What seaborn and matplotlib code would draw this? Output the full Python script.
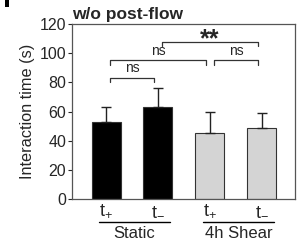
import numpy as np
import pandas as pd
import matplotlib
matplotlib.use("Agg")
import matplotlib.pyplot as plt
from matplotlib.patches import Rectangle
import seaborn as sns

conditions = ["Static t+", "Static t-", "Shear t+", "Shear t-"]
means = [53, 63, 45, 49]
sds = [10, 13, 15, 10]
tick_labels = [r"t$_{+}$", r"t$_{-}$", r"t$_{+}$", r"t$_{-}$"]
groups = ["Static", "4h Shear"]
colors = ["black", "black", "#d4d4d4", "#d4d4d4"]

sns.set_style("white")
plt.rcParams["font.family"] = ["Liberation Sans", "DejaVu Sans"]
plt.rcParams["mathtext.fontset"] = "custom"
plt.rcParams["mathtext.rm"] = "Liberation Sans"
plt.rcParams["mathtext.it"] = "Liberation Sans"

df = pd.DataFrame({"cond": conditions, "time": means})

fig = plt.figure(figsize=(2.98, 2.42), dpi=100)
ax = fig.add_axes([0.2406, 0.1777, 0.7496, 0.7231])

sns.barplot(data=df, x="cond", y="time", hue="cond", palette=colors,
            width=0.56, errorbar=None, legend=False, ax=ax,
            edgecolor="#333333", linewidth=0.8)
ax.errorbar(range(4), means, yerr=[np.zeros(4), sds], fmt="none",
            ecolor="#222222", elinewidth=1.0, capsize=3.5, capthick=1.0)

ax.set_xlim(-0.662, 3.647)
ax.set_ylim(0, 120)
ax.set_yticks(range(0, 121, 20))
ax.tick_params(axis="y", labelsize=11.5, length=3, width=0.8, direction="out", left=True, pad=1)
ax.tick_params(axis="x", length=0, labelsize=13, pad=2)
ax.set_xticks(range(4))
ax.set_xticklabels(tick_labels)
ax.set_xlabel("")
ax.set_ylabel("Interaction time (s)", fontsize=11.7, labelpad=3)
for s in ax.spines.values():
    s.set_color("#555555")
    s.set_linewidth(0.9)

# significance brackets
def bracket(x1, x2, y, label, size=10, weight="normal", ty=None, va="bottom"):
    ax.plot([x1, x1, x2, x2], [y - 3, y, y, y - 3], color="#333333", lw=0.9)
    ax.text((x1 + x2) / 2, y + 2 if ty is None else ty, label, ha="center",
            va=va, fontsize=size, fontweight=weight)

bracket(0.077, 0.927, 83, "ns")
bracket(0.077, 1.93, 95, "ns")
bracket(2.08, 2.93, 95, "ns")
bracket(1.075, 2.93, 108, "**", size=18, weight="bold", ty=105, va="baseline")

# group labels under the x axis
to_fig = lambda px: px / 298
for (x0, x1), name in zip([(99, 170), (203, 274)], groups):
    fig.add_artist(plt.Line2D([to_fig(x0), to_fig(x1)], [1 - 222 / 242] * 2,
                              color="black", lw=1.0))
    fig.text(to_fig((x0 + x1) / 2), 1 - 233.5 / 242, name, ha="center",
             va="center", fontsize=12)

fig.text(72 / 298, 1 - 14 / 242, "w/o post-flow", fontsize=12.5,
         fontweight="bold", ha="left", va="center")
# clipped panel-letter fragment in the top-left corner
fig.add_artist(Rectangle((5 / 298, 1 - 7 / 242), 4 / 298, 7 / 242,
                         transform=fig.transFigure, color="black", lw=0))

fig.savefig("out.png", dpi=100)
